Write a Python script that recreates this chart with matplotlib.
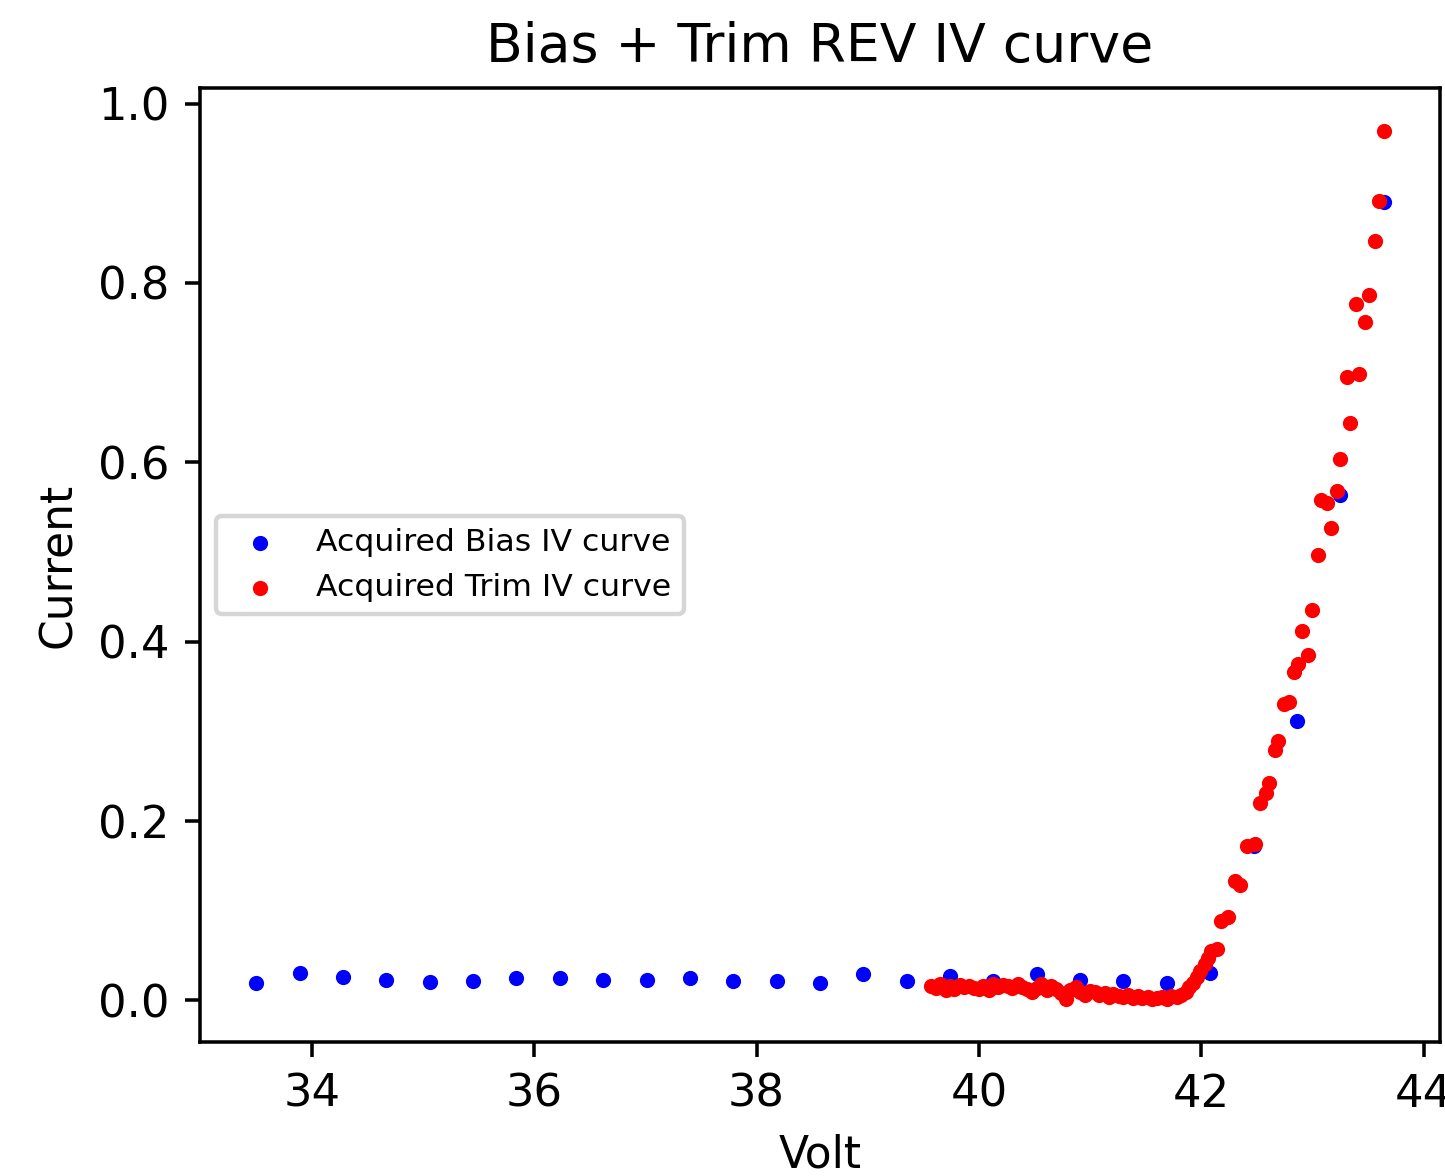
import matplotlib
matplotlib.use("Agg")
import matplotlib.pyplot as plt

# Acquired Bias IV curve (blue)
bias_volt = [33.50, 33.89, 34.28, 34.67, 35.06, 35.45, 35.84, 36.23, 36.62, 37.01,
             37.40, 37.79, 38.18, 38.57, 38.96, 39.35, 39.74, 40.13, 40.52, 40.91,
             41.30, 41.69, 42.08, 42.47, 42.86, 43.25, 43.64]
bias_current = [0.020, 0.031, 0.026, 0.023, 0.021, 0.022, 0.025, 0.025, 0.023, 0.023,
                0.025, 0.022, 0.022, 0.020, 0.029, 0.022, 0.027, 0.022, 0.029, 0.023,
                0.022, 0.020, 0.031, 0.172, 0.312, 0.563, 0.890]

# Acquired Trim IV curve (red)
trim_volt = [39.57, 39.61, 39.65, 39.70, 39.74, 39.78, 39.83, 39.87, 39.91, 39.96,
             40.00, 40.04, 40.09, 40.13, 40.17, 40.22, 40.26, 40.30, 40.35, 40.39,
             40.43, 40.48, 40.52, 40.56, 40.61, 40.65, 40.69, 40.74, 40.78, 40.82,
             40.87, 40.91, 40.95, 41.00, 41.04, 41.08, 41.13, 41.17, 41.21, 41.26,
             41.30, 41.34, 41.39, 41.43, 41.47, 41.52, 41.56, 41.60, 41.65, 41.69,
             41.73, 41.78,
             41.82, 41.86, 41.89, 41.93, 41.96, 41.99, 42.03, 42.06, 42.09, 42.14,
             42.18, 42.24, 42.30, 42.35, 42.41, 42.48, 42.53, 42.58, 42.61, 42.66,
             42.69, 42.74, 42.79, 42.83, 42.87, 42.91, 42.96, 43.00, 43.05, 43.08,
             43.13, 43.17, 43.22, 43.25, 43.31, 43.34, 43.39, 43.42, 43.47, 43.51,
             43.56, 43.60, 43.64]
trim_current = [0.016, 0.014, 0.018, 0.012, 0.016, 0.013, 0.017, 0.015, 0.016, 0.014,
                0.013, 0.016, 0.012, 0.018, 0.015, 0.017, 0.016, 0.014, 0.018, 0.015,
                0.013, 0.010, 0.014, 0.018, 0.012, 0.016, 0.013, 0.008, 0.002, 0.012,
                0.015, 0.010, 0.006, 0.011, 0.009, 0.006, 0.008, 0.004, 0.007, 0.005,
                0.004, 0.006, 0.003, 0.005, 0.003, 0.004, 0.002, 0.003, 0.004, 0.002,
                0.005, 0.004,
                0.006, 0.009, 0.015, 0.020, 0.026, 0.033, 0.041, 0.047, 0.055, 0.057,
                0.089, 0.093, 0.133, 0.129, 0.172, 0.174, 0.220, 0.231, 0.242, 0.279,
                0.289, 0.331, 0.333, 0.366, 0.375, 0.412, 0.385, 0.435, 0.497, 0.558,
                0.555, 0.527, 0.568, 0.604, 0.695, 0.644, 0.776, 0.698, 0.756, 0.787,
                0.847, 0.891, 0.969]

DPI = 317
fig = plt.figure(figsize=(1445 / DPI, 1176 / DPI), dpi=DPI)
ax = fig.add_axes([0.1384, 0.1139, 0.8581, 0.8113])

ax.scatter(bias_volt, bias_current, s=6, color="blue", label="Acquired Bias IV curve")
ax.scatter(trim_volt, trim_current, s=6, color="red", label="Acquired Trim IV curve")

ax.set_title("Bias + Trim REV IV curve", fontsize=12.2)
ax.set_xlabel("Volt", fontsize=10)
ax.set_ylabel("Current", fontsize=10)
ax.tick_params(labelsize=10.2)
ax.legend(loc="center left", fontsize=7.15)

fig.savefig("out.png", dpi=DPI)
